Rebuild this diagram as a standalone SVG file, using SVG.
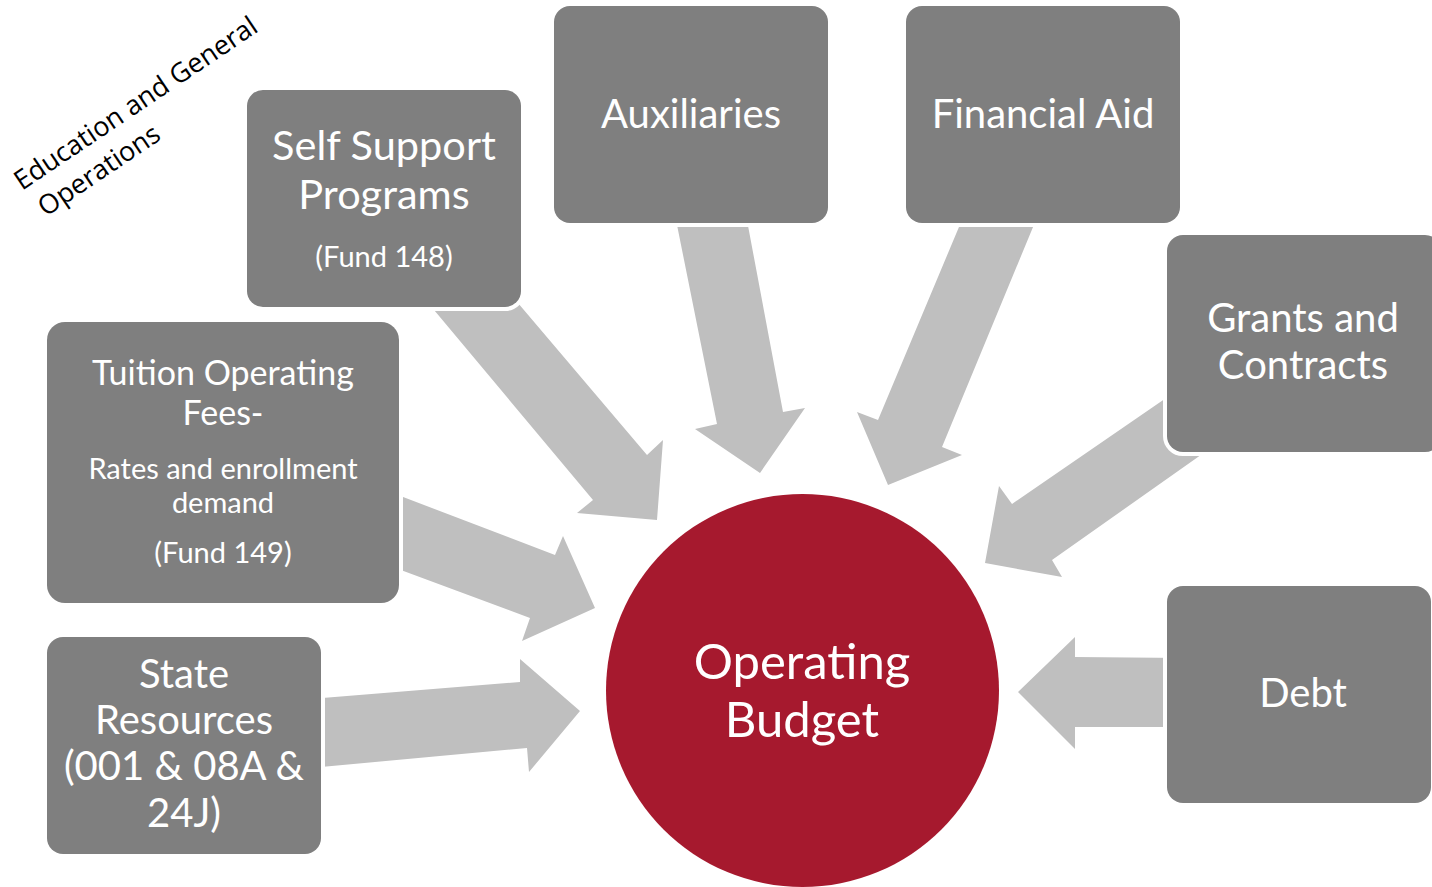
<svg xmlns="http://www.w3.org/2000/svg" width="1432" height="887" viewBox="0 0 1432 887">
<style>
.arrow{fill:#bfbfbf}
.box{fill:#7f7f7f;stroke:#ffffff;stroke-width:8;paint-order:stroke}
.t{font-family:Lato,"Open Sans",sans-serif;fill:#ffffff;text-anchor:middle}
.big{font-size:40px}
.mid{font-size:34px}
.sm{font-size:29px}
.hub{font-size:49px}
.note{font-family:"Open Sans","Noto Sans",sans-serif;font-size:27px;fill:#000000}
</style>
<rect width="1432" height="887" fill="#ffffff"/>
<g id="connectors">
<polygon class="arrow" points="424,298 593,500 577,513 657,520 663,440 647,455 507,290"/>
<polygon class="arrow" points="675,215 717,424 695,429 760,473 805,408 783,412 746,215"/>
<polygon class="arrow" points="964,215 878,420 857,412 888,485 962,455 942,447 1038,215"/>
<polygon class="arrow" points="1185,385 1012,504 999,486 985,563 1062,577 1052,560 1215,445"/>
<polygon class="arrow" points="1185,658 1075,657 1075,637 1018,692 1075,749 1075,727 1185,727"/>
<polygon class="arrow" points="310,699 520,682 520,659 580,711 529,772 527,748 310,768"/>
<polygon class="arrow" points="390,492 555,555 563,536 595,608 522,641 530,618 390,566"/>
</g>
<g id="self-support">
<rect class="box" x="247" y="90" width="274" height="217" rx="16"/>
<text class="t big" x="384" y="160" style="font-size:41.5px">Self Support</text>
<text class="t big" x="384" y="209" style="font-size:41.5px">Programs</text>
<text class="t sm" x="384" y="267">(Fund 148)</text>
</g>
<g id="auxiliaries">
<rect class="box" x="554" y="6" width="274" height="217" rx="16"/>
<text class="t big" x="691" y="128">Auxiliaries</text>
</g>
<g id="financial-aid">
<rect class="box" x="906" y="6" width="274" height="217" rx="16"/>
<text class="t big" x="1043" y="128">Financial Aid</text>
</g>
<g id="grants">
<rect class="box" x="1167" y="235" width="274" height="217" rx="16"/>
<text class="t big" x="1303" y="332">Grants and</text>
<text class="t big" x="1303" y="379">Contracts</text>
</g>
<g id="debt">
<rect class="box" x="1167" y="586" width="264" height="217" rx="16"/>
<text class="t big" x="1303" y="707">Debt</text>
</g>
<g id="tuition">
<rect class="box" x="47" y="322" width="352" height="281" rx="18"/>
<text class="t mid" x="223" y="385">Tuition Operating</text>
<text class="t mid" x="223" y="425">Fees-</text>
<text class="t sm" x="223" y="479">Rates and enrollment</text>
<text class="t sm" x="223" y="513">demand</text>
<text class="t sm" x="223" y="563">(Fund 149)</text>
</g>
<g id="state">
<rect class="box" x="47" y="637" width="274" height="217" rx="16"/>
<text class="t big" x="184" y="688">State</text>
<text class="t big" x="184" y="734">Resources</text>
<text class="t big" x="184" y="780">(001 &amp; 08A &amp;</text>
<text class="t big" x="184" y="827">24J)</text>
</g>
<g id="operating-budget">
<circle cx="802.5" cy="690.5" r="196.5" fill="#a6192e"/>
<text class="t hub" x="802" y="679">Operating</text>
<text class="t hub" x="802" y="737">Budget</text>
</g>
<g id="label-education" transform="translate(22,191) rotate(-34)">
<text class="note" x="0" y="0">Education and General</text>
<text class="note" x="5" y="35">Operations</text>
</g>
</svg>
